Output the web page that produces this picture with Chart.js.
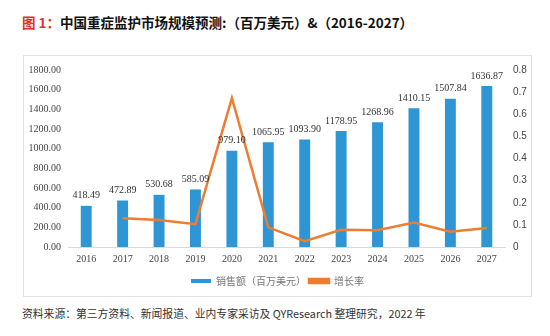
<!DOCTYPE html>
<html>
<head>
<meta charset="utf-8">
<script src="https://cdn.jsdelivr.net/npm/chart.js@4.4.1/dist/chart.umd.min.js"></script>
<style>
	body { margin: 0; background: #fff; width: 550px; height: 336px; position: relative; overflow: hidden; }
	#title { position: absolute; left: 22px; top: 12px; font: bold 13.5px 'Noto Sans CJK SC', sans-serif; color: #111; white-space: nowrap; }
	#title span { color: #e0302a; }
	#box { position: absolute; left: 23px; top: 55px; width: 507px; height: 240px; border: 1px solid #e2e2e2; }
	#box canvas { display: block; }
	#source { position: absolute; left: 22px; top: 305px; font: 10.8px 'Noto Sans CJK SC', sans-serif; color: #333; white-space: nowrap; }
</style>
</head>
<body>
<div id="title"><span>图 1：</span>中国重症监护市场规模预测:（百万美元）&amp;（2016-2027）</div>
<div id="box"><canvas id="market-chart" width="507" height="240"></canvas></div>
<div id="source">资料来源：第三方资料、新闻报道、业内专家采访及 QYResearch 整理研究，2022 年</div>
<script>
const YEARS = ['2016', '2017', '2018', '2019', '2020', '2021', '2022', '2023', '2024', '2025', '2026', '2027'];
const SALES = [418.49, 472.89, 530.68, 585.09, 979.10, 1065.95, 1093.90, 1178.95, 1268.96, 1410.15, 1507.84, 1636.87];
const GROWTH = [null, 0.13, 0.122, 0.103, 0.673, 0.089, 0.026, 0.078, 0.076, 0.111, 0.069, 0.086];
const COLORS = {
	bar: '#2e96d4',
	line: '#ed7d31',
	tick: '#444',
	axis: '#d9d9d9',
	legend: '#777',
};

const ctx = document.getElementById('market-chart').getContext('2d');

// value labels above the bars
const barLabels = {
	id: 'barLabels',
	afterDatasetsDraw(chart) {
		const c = chart.ctx;
		const meta = chart.getDatasetMeta(0);
		c.save();
		c.font = '10px "Liberation Serif", serif';
		c.fillStyle = '#333';
		c.textAlign = 'center';
		c.textBaseline = 'bottom';
		meta.data.forEach((bar, i) => {
			c.fillText(SALES[i].toFixed(2), bar.x, bar.y - 5);
		});
		c.restore();
	},
};

const config = {
	data: {
		labels: YEARS,
		datasets: [
			{
				type: 'bar',
				label: '销售额（百万美元）',
				data: SALES,
				backgroundColor: COLORS.bar,
				categoryPercentage: 1,
				barPercentage: 0.3,
				yAxisID: 'y',
				order: 2,
			},
			{
				type: 'line',
				label: '增长率',
				data: GROWTH,
				borderColor: COLORS.line,
				backgroundColor: COLORS.line,
				borderWidth: 2.5,
				pointRadius: 0,
				tension: 0,
				yAxisID: 'y1',
				order: 1,
			},
		],
	},
	options: {
		responsive: false,
		animation: false,
		layout: { padding: { top: 10, bottom: 0 } },
		scales: {
			x: {
				grid: { display: false, drawTicks: false },
				border: { color: COLORS.axis },
				ticks: { color: COLORS.tick, font: { family: 'Liberation Serif', size: 10 }, padding: 6 },
				afterFit: (s) => { s.height = 26; },
			},
			y: {
				position: 'left',
				min: 0,
				max: 1800,
				grid: { display: false, drawTicks: false },
				border: { display: false },
				ticks: {
					stepSize: 200,
					color: COLORS.tick,
					font: { family: 'Liberation Serif', size: 10 },
					padding: 7,
					callback: (v) => v.toFixed(2),
				},
				afterFit: (s) => { s.width = 44; },
			},
			y1: {
				position: 'right',
				min: 0,
				max: 0.8,
				grid: { display: false, drawTicks: false },
				border: { display: false },
				ticks: {
					stepSize: 0.1,
					color: COLORS.tick,
					font: { family: 'Liberation Sans', size: 10 },
					padding: 8,
					callback: (v) => Math.round(v * 10) / 10,
				},
				afterFit: (s) => { s.width = 26; },
			},
		},
		plugins: {
			legend: {
				position: 'bottom',
				labels: {
					boxWidth: 20,
					boxHeight: 4,
					color: COLORS.legend,
					font: { family: 'Noto Sans CJK SC', size: 10 },
					padding: 3,
					sort: (a, b) => a.datasetIndex - b.datasetIndex,
				},
			},
			tooltip: { enabled: false },
		},
	},
	plugins: [barLabels],
};

new Chart(ctx, config);
</script>
</body>
</html>
